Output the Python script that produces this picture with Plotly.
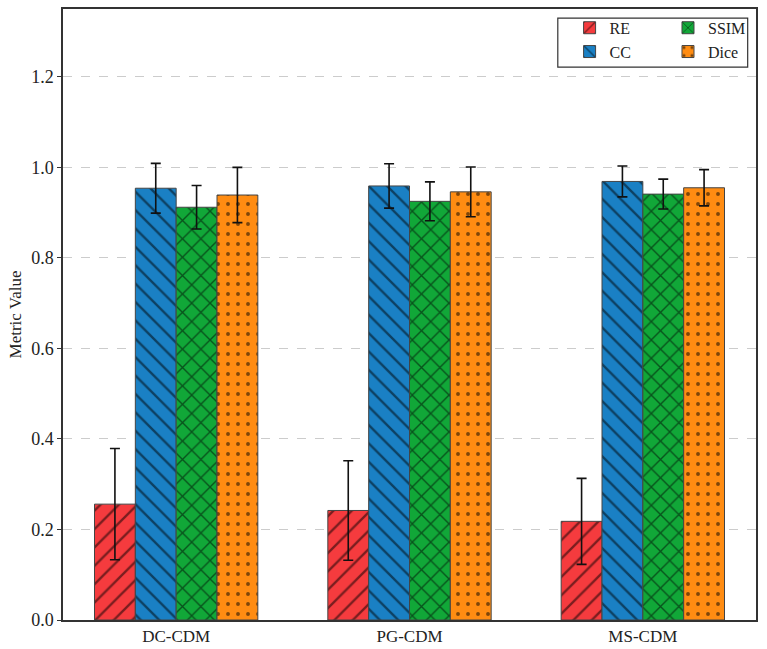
import plotly.graph_objects as go

methods = ["DC-CDM", "PG-CDM", "MS-CDM"]
metrics = ["RE", "CC", "SSIM", "Dice"]
means = {
    "RE":   [0.256, 0.242, 0.218],
    "CC":   [0.954, 0.959, 0.969],
    "SSIM": [0.912, 0.925, 0.941],
    "Dice": [0.939, 0.946, 0.955],
}
stds = {
    "RE":   [0.123, 0.110, 0.095],
    "CC":   [0.055, 0.049, 0.034],
    "SSIM": [0.048, 0.043, 0.033],
    "Dice": [0.061, 0.055, 0.040],
}
y_ticks = [0.0, 0.2, 0.4, 0.6, 0.8, 1.0, 1.2]

colors = {"RE": "#F53B3E", "CC": "#1A80C4", "SSIM": "#11A738", "Dice": "#FF8C12"}
shapes = {"RE": "/", "CC": "\\", "SSIM": "x", "Dice": "."}
psize = {"RE": 13, "CC": 13, "SSIM": 13, "Dice": 10}
psol = {"RE": 0.18, "CC": 0.18, "SSIM": 0.2, "Dice": 0.12}
legend_of = {"RE": "legend", "CC": "legend", "SSIM": "legend2", "Dice": "legend2"}

FONT = "Liberation Serif, Times New Roman, serif"

fig = go.Figure()
for m in metrics:
    fig.add_trace(go.Bar(
        name=m, x=methods, y=means[m],
        marker=dict(
            color=colors[m],
            line=dict(color="#444444", width=1),
            pattern=dict(shape=shapes[m], fgcolor="black", bgcolor=colors[m],
                         size=psize[m], solidity=psol[m], fillmode="overlay"),
        ),
        error_y=dict(type="data", array=stds[m], visible=True,
                     color="#111111", thickness=1.6, width=5),
        legend=legend_of[m],
    ))

leg_common = dict(orientation="v", yanchor="top", xanchor="left",
                  bgcolor="rgba(0,0,0,0)", borderwidth=0,
                  font=dict(family=FONT, size=16, color="#222222"),
                  traceorder="normal", tracegroupgap=0)

fig.update_layout(
    width=767, height=649,
    margin=dict(l=63, r=11, t=9, b=29),
    paper_bgcolor="white", plot_bgcolor="white",
    barmode="group", bargap=0.3, bargroupgap=0.0,
    font=dict(family=FONT, size=16, color="#222222"),
    showlegend=True,
    legend=dict(x=0.731, y=0.997, **leg_common),
    legend2=dict(x=0.873, y=0.997, **leg_common),
    shapes=[dict(type="rect", xref="paper", yref="paper",
                 x0=0.714, x1=0.988, y0=0.905, y1=0.985,
                 line=dict(color="#333333", width=1.2), fillcolor="rgba(0,0,0,0)",
                 layer="below")],
)
fig.update_xaxes(
    type="category", range=[-0.485, 2.485], automargin=False,
    showline=True, linecolor="#333333", linewidth=1.5, mirror=True,
    ticks="", showgrid=False,
    tickfont=dict(family=FONT, size=17, color="#222222"),
)
fig.update_yaxes(
    range=[0, 1.35], tickvals=y_ticks, automargin=False,
    ticktext=[f"{v:.1f}" for v in y_ticks],
    showline=True, linecolor="#333333", linewidth=1.5, mirror=True,
    ticks="outside", ticklen=4, tickcolor="#333333",
    showgrid=True, gridcolor="#cccccc", griddash="dash", gridwidth=1,
    zeroline=False,
    title=dict(text="Metric Value", font=dict(family=FONT, size=17), standoff=5),
    tickfont=dict(family=FONT, size=18, color="#222222"),
)

fig.write_html("out.html")
